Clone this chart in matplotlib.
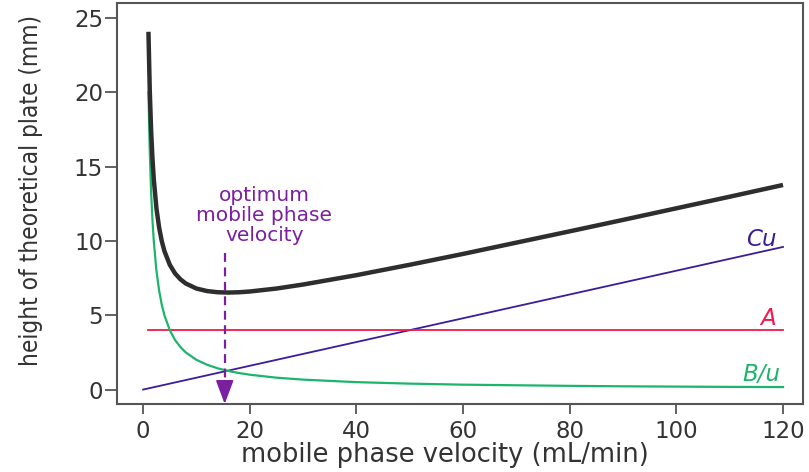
import matplotlib
matplotlib.use("Agg")
import matplotlib.pyplot as plt

plt.rcParams['font.family'] = ['DejaVu Sans']

# readings
u = [1, 1.25, 1.5, 1.75, 2, 2.5, 3, 3.5, 4, 5, 6, 7, 8, 10, 12, 14, 16, 18, 20,
     25, 30, 40, 50, 60, 70, 80, 90, 100, 110, 120]
h_total = [24.08, 20.1, 17.45, 15.57, 14.16, 12.2, 10.91, 9.99, 9.32, 8.4, 7.81,
           7.42, 7.14, 6.8, 6.63, 6.55, 6.53, 6.55, 6.6, 6.8, 7.07, 7.7, 8.4,
           9.13, 9.89, 10.65, 11.42, 12.2, 12.98, 13.77]
b_term = [20, 16, 13.33, 11.43, 10, 8, 6.67, 5.71, 5, 4, 3.33, 2.86, 2.5, 2, 1.67,
          1.43, 1.25, 1.11, 1.0, 0.8, 0.67, 0.5, 0.4, 0.33, 0.29, 0.25, 0.22,
          0.2, 0.18, 0.17]
a_u = [1, 120]
a_term = [4, 4]
c_u = [0, 120]
c_term = [0, 9.6]
u_opt = 15.3
h_arrow_top = 9.2

purple = '#7a1fa0'
txt = '#333333'

fig = plt.figure(figsize=(8.09, 4.72), dpi=100)
ax = fig.add_axes([0.1446, 0.1441, 0.848, 0.849])

ax.plot(c_u, c_term, color='#3b1d9a', lw=1.3)
ax.plot(a_u, a_term, color='#f2184c', lw=1.3)
ax.plot(u, b_term, color='#1db56c', lw=1.6)
ax.plot(u, h_total, color='#2e2e2e', lw=3.2, solid_capstyle='butt')

# optimum velocity marker
ax.plot([u_opt, u_opt], [h_arrow_top, 0.2], color=purple, lw=1.6,
        linestyle=(0, (4, 2.5)))
ax.annotate('', xy=(u_opt, -0.97), xytext=(u_opt, 0.4),
            arrowprops=dict(arrowstyle='-|>,head_length=0.72,head_width=0.27',
                            color=purple, lw=1.5, shrinkA=0, shrinkB=0,
                            mutation_scale=20),
            annotation_clip=False)
ax.text(22.7, 11.7, 'optimum\nmobile phase\nvelocity', color=purple,
        fontsize=14.5, ha='center', va='center', linespacing=1.05)

ax.text(118.7, 10.1, 'Cu', color='#3b1d9a', fontsize=16.5, style='italic',
        ha='right', va='center')
ax.text(118.7, 4.8, 'A', color='#f2184c', fontsize=16.5, style='italic',
        ha='right', va='center')
ax.text(119.5, 1.0, 'B/u', color='#1db56c', fontsize=16.5, style='italic',
        ha='right', va='center')

ax.set_xlim(-4.9, 123.75)
ax.set_ylim(-0.97, 26.0)
ax.set_xticks(range(0, 121, 20))
ax.set_yticks(range(0, 26, 5))

for s in ax.spines.values():
    s.set_color('#555555')
    s.set_linewidth(1.5)
ax.tick_params(direction='out', width=1.3, color='#555555',
               labelsize=16.5, labelcolor=txt)
ax.tick_params(axis='x', length=7, pad=4.5)
ax.tick_params(axis='y', length=8.5, pad=1.5)

ax.set_xlabel('mobile phase velocity (mL/min)', fontsize=18.5, color=txt,
              labelpad=0)
ax.xaxis.set_label_coords(0.478, -0.095)
ax.set_ylabel('height of theoretical plate (mm)', fontsize=17.5, color=txt,
              family=['Liberation Sans Narrow', 'DejaVu Sans'],
              fontstretch='condensed')
ax.yaxis.set_label_coords(-0.108, 0.534)

fig.savefig('out.png', dpi=100)
